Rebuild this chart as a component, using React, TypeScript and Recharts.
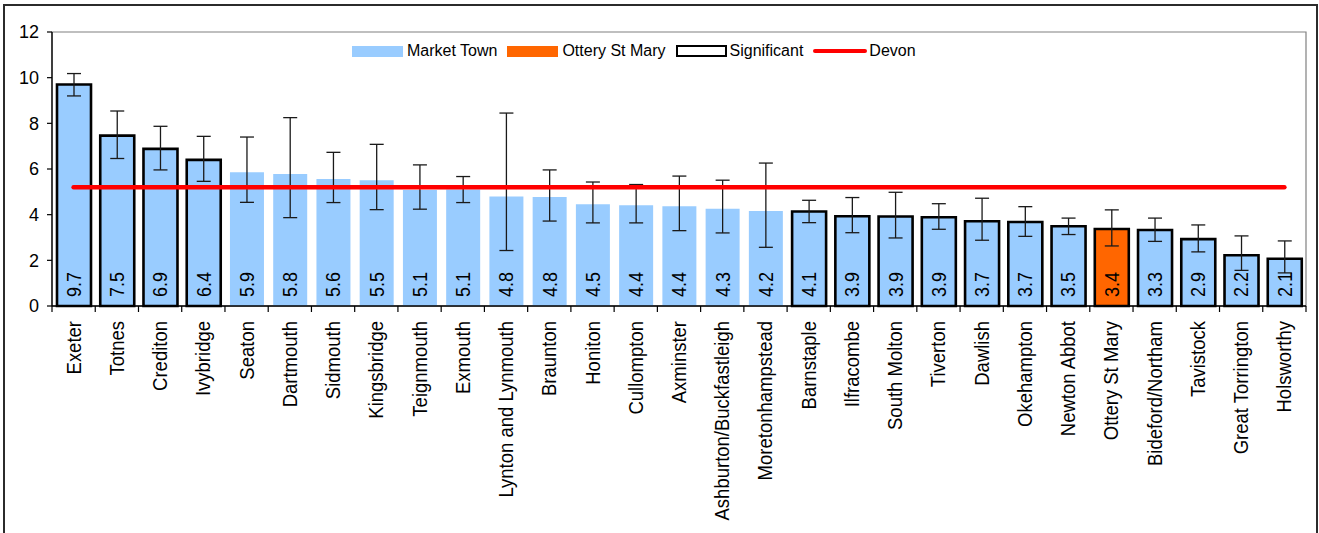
import { Bar, Cell, ComposedChart, ErrorBar, LabelList, Legend, Line, ReferenceArea, XAxis, YAxis } from "recharts";

const towns = [
  "Exeter", "Totnes", "Crediton", "Ivybridge", "Seaton", "Dartmouth", "Sidmouth", "Kingsbridge",
  "Teignmouth", "Exmouth", "Lynton and Lynmouth", "Braunton", "Honiton", "Cullompton", "Axminster",
  "Ashburton/Buckfastleigh", "Moretonhampstead", "Barnstaple", "Ilfracombe", "South Molton", "Tiverton",
  "Dawlish", "Okehampton", "Newton Abbot", "Ottery St Mary", "Bideford/Northam", "Tavistock",
  "Great Torrington", "Holsworthy",
];
const rates = [
  9.7, 7.46, 6.88, 6.4, 5.86, 5.78, 5.56, 5.51, 5.08, 5.1, 4.8, 4.77, 4.46, 4.41, 4.37, 4.26, 4.16,
  4.14, 3.93, 3.92, 3.89, 3.71, 3.68, 3.49, 3.37, 3.33, 2.93, 2.22, 2.07,
];
const ciLow = [
  9.2, 6.46, 5.96, 5.46, 4.54, 3.87, 4.53, 4.22, 4.24, 4.53, 2.43, 3.72, 3.64, 3.64, 3.3, 3.2, 2.57,
  3.65, 3.21, 2.98, 3.36, 2.88, 3.05, 3.13, 2.63, 2.83, 2.37, 1.56, 1.45,
];
const ciHigh = [
  10.18, 8.54, 7.87, 7.43, 7.4, 8.25, 6.73, 7.08, 6.18, 5.67, 8.45, 5.96, 5.43, 5.32, 5.69, 5.51, 6.26,
  4.63, 4.75, 4.98, 4.48, 4.72, 4.35, 3.85, 4.21, 3.85, 3.55, 3.07, 2.85,
];
const significant = [
  true, true, true, true, false, false, false, false, false, false, false, false, false, false, false,
  false, false, true, true, true, true, true, true, true, true, true, true, true, true,
];
const devonRate = 5.2;
const highlightTown = "Ottery St Mary";
const yTicks = [0, 2, 4, 6, 8, 10, 12];

const MARKET_BLUE = "#99CCFF";
const OTTERY_ORANGE = "#FF6600";
const DEVON_RED = "#FF0000";
const FONT = "'Liberation Sans', Arial, sans-serif";

const W = 1319;
const H = 533;
const M_LEFT = 12;
const Y_AXIS_W = 40;
const M_RIGHT = 13;
const PLOT_W = W - M_LEFT - Y_AXIS_W - M_RIGHT;

const rows = towns.map((town, i) => ({
  town,
  rate: rates[i],
  err: [rates[i] - ciLow[i], ciHigh[i] - rates[i]],
  devon: devonRate,
}));

// rotated text in the original is a touch wider than plain Arial, hence the scale
function CategoryTick(props: any) {
  const { x, y, payload, index } = props;
  const step = PLOT_W / towns.length;
  const last = index === towns.length - 1;
  const ty = y + 15;
  return (
    <g>
      <line x1={x - step / 2} x2={x - step / 2} y1={y} y2={y + 6} stroke="#000" strokeWidth={1.2} />
      {last && <line x1={x + step / 2} x2={x + step / 2} y1={y} y2={y + 6} stroke="#000" strokeWidth={1.2} />}
      <text
        x={0}
        y={0}
        dy="0.35em"
        transform={`translate(${x}, ${ty}) rotate(-90) scale(1, 1.08)`}
        textAnchor="end"
        fontSize={18.5}
        fontFamily={FONT}
        fill="#000"
      >
        {payload.value}
      </text>
    </g>
  );
}

function ValueLabel(props: any) {
  const { x, y, width, height, value } = props;
  const cx = x + width / 2;
  const by = y + height - 9;
  return (
    <text
      x={0}
      y={0}
      dy="0.35em"
      transform={`translate(${cx}, ${by}) rotate(-90) scale(1, 1.1)`}
      textAnchor="start"
      fontSize={18}
      fontFamily={FONT}
      fill="#000"
    >
      {Number(value).toFixed(1)}
    </text>
  );
}

function LegendBox() {
  const item = { display: "flex", alignItems: "center", marginRight: 10 } as const;
  return (
    <div style={{ display: "flex", alignItems: "center", fontFamily: FONT, fontSize: 16, color: "#000" }}>
      <div style={item}>
        <span style={{ width: 51, height: 11, background: MARKET_BLUE, marginRight: 4 }} />
        Market Town
      </div>
      <div style={item}>
        <span style={{ width: 51, height: 11, background: OTTERY_ORANGE, marginRight: 4 }} />
        Ottery St Mary
      </div>
      <div style={item}>
        <span style={{ width: 47, height: 8, border: "2px solid #000", marginRight: 3 }} />
        Significant
      </div>
      <div style={item}>
        <span style={{ width: 54, height: 4, background: DEVON_RED, borderRadius: 2, marginRight: 2 }} />
        Devon
      </div>
    </div>
  );
}

export default function App() {
  return (
    <div style={{ position: "absolute", left: 0, top: 0, width: W, height: H, overflow: "hidden", background: "#fff" }}>
      <div
        style={{
          position: "absolute",
          left: 3,
          top: 4,
          width: 1311,
          height: 560,
          border: "2px solid #2b2b2b",
        }}
      />
      <ComposedChart
        width={W}
        height={H}
        data={rows}
        margin={{ top: 32, right: M_RIGHT, bottom: 0, left: M_LEFT }}
        style={{ position: "absolute", left: 0, top: 0 }}
      >
        <ReferenceArea y1={0} y2={12} fill="none" stroke="#808080" strokeWidth={1.2} ifOverflow="visible" />
        <XAxis
          dataKey="town"
          interval={0}
          height={227}
          tickSize={0}
          tickMargin={0}
          tickLine={false}
          tick={<CategoryTick />}
          axisLine={{ stroke: "#000", strokeWidth: 1.3 }}
        />
        <YAxis
          domain={[0, 12]}
          ticks={yTicks}
          width={Y_AXIS_W}
          tickSize={5}
          tickMargin={8}
          tickLine={{ stroke: "#000", strokeWidth: 1.2 }}
          axisLine={{ stroke: "#000", strokeWidth: 1.3 }}
          tick={{ fontSize: 18, fontFamily: FONT, fill: "#000" }}
        />
        <Legend
          verticalAlign="middle"
          align="center"
          wrapperStyle={{ top: 42, left: 352, width: "auto" }}
          content={() => <LegendBox />}
        />
        <Bar dataKey="rate" barSize={34} isAnimationActive={false}>
          {rows.map((r, i) => (
            <Cell
              key={r.town}
              fill={r.town === highlightTown ? OTTERY_ORANGE : MARKET_BLUE}
              stroke={significant[i] ? "#000" : "none"}
              strokeWidth={significant[i] ? 2.6 : 0}
            />
          ))}
          <LabelList dataKey="rate" content={<ValueLabel />} />
          <ErrorBar dataKey="err" width={7} stroke="#1a1a1a" strokeWidth={1.3} />
        </Bar>
        <Line
          dataKey="devon"
          stroke={DEVON_RED}
          strokeWidth={4.5}
          strokeLinecap="round"
          dot={false}
          activeDot={false}
          isAnimationActive={false}
        />
      </ComposedChart>
    </div>
  );
}
